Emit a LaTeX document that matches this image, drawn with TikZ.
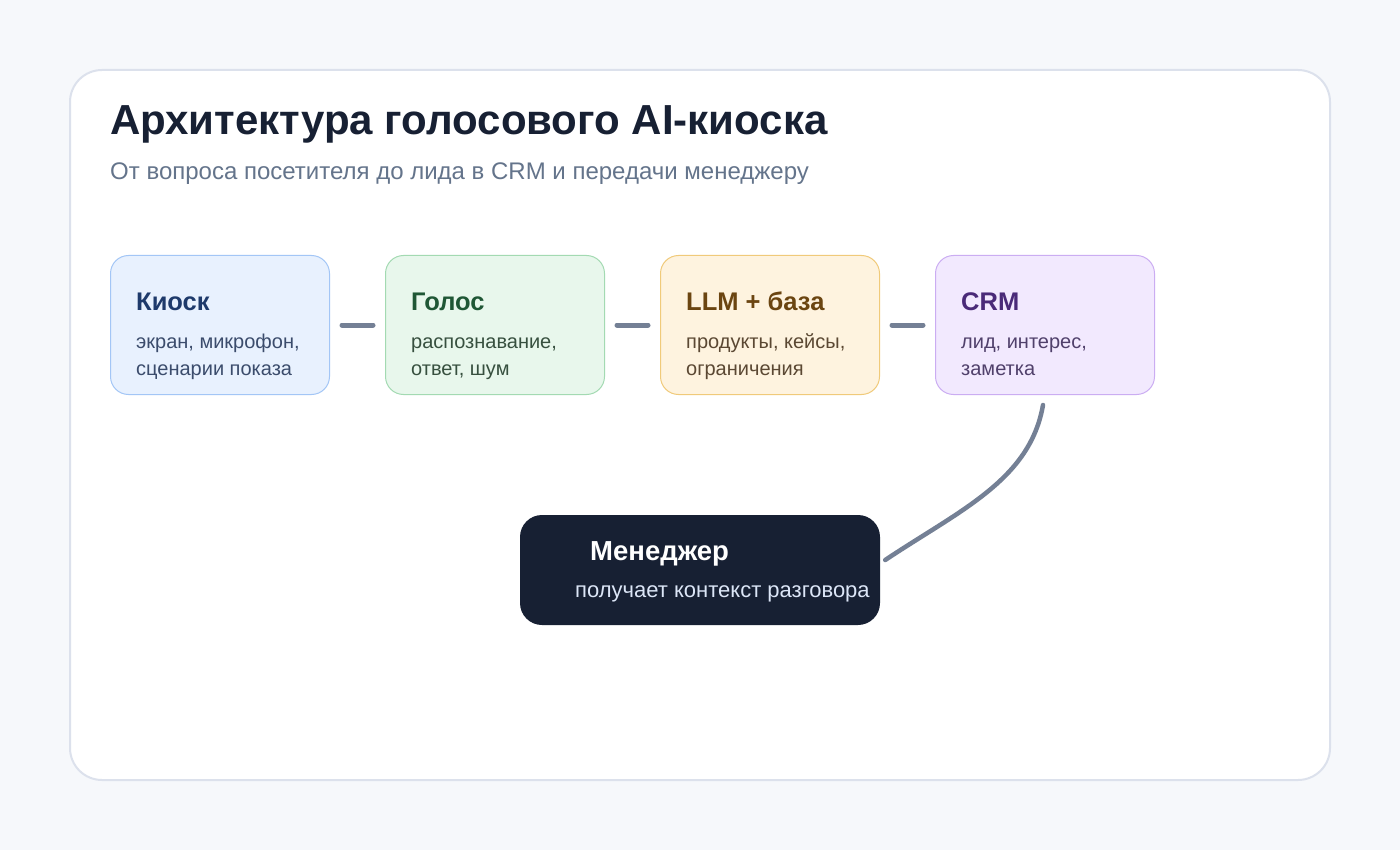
\documentclass[tikz,border=0pt]{standalone}
\usepackage{fontspec}
\setmainfont{Liberation Sans}
\usetikzlibrary{positioning,calc}

\definecolor{pagebg}{HTML}{F6F8FB}
\definecolor{cardline}{HTML}{DCE1EC}
\definecolor{ink}{HTML}{172033}
\definecolor{muted}{HTML}{64748B}
\definecolor{linkgray}{HTML}{748095}
\definecolor{kioskfill}{HTML}{E8F1FE}
\definecolor{kioskline}{HTML}{A3C6F6}
\definecolor{kiosktitle}{HTML}{1E3A6B}
\definecolor{kiosktext}{HTML}{3B4C6C}
\definecolor{voicefill}{HTML}{E8F7EC}
\definecolor{voiceline}{HTML}{A3DAB2}
\definecolor{voicetitle}{HTML}{1F5735}
\definecolor{voicetext}{HTML}{37503F}
\definecolor{llmfill}{HTML}{FEF3DF}
\definecolor{llmline}{HTML}{F0CA7A}
\definecolor{llmtitle}{HTML}{6B4511}
\definecolor{llmtext}{HTML}{5B4833}
\definecolor{crmfill}{HTML}{F2E9FE}
\definecolor{crmline}{HTML}{CBADF2}
\definecolor{crmtitle}{HTML}{4A2A78}
\definecolor{crmtext}{HTML}{50406B}
\definecolor{mgrtext}{HTML}{DCE6F7}

\begin{document}
\begin{tikzpicture}[x=1pt, y=-1pt,
    stage/.style={draw, line width=1pt, rounded corners=18pt,
      minimum width=219pt, minimum height=139pt, inner sep=0pt},
    stagetitle/.style={anchor=base west, inner sep=0pt,
      font=\fontsize{25.5}{30}\selectfont\bfseries},
    stagetext/.style={anchor=base west, inner sep=0pt, align=left,
      font=\fontsize{20}{27}\selectfont},
    link/.style={draw=linkgray, line width=5pt, line cap=round}]
  % page and card
  \fill[pagebg] (0,0) rectangle (1400,850);
  \useasboundingbox (0,0) rectangle (1400,850);
  \draw[cardline, line width=2pt, fill=white, rounded corners=32pt] (70,70) rectangle (1330,780);
  \node[anchor=base west, inner sep=0pt, text=ink, font=\fontsize{42}{50}\selectfont\bfseries]
    (title) at (110,135) {Архитектура голосового AI-киоска};
  \node[anchor=base west, inner sep=0pt, text=muted, font=\fontsize{24}{30}\selectfont]
    (subtitle) at (110,180) {От вопроса посетителя до лида в CRM и передачи менеджеру};

  % stages
  \node[stage, fill=kioskfill, draw=kioskline] (kiosk) at (220,325) {};
  \node[stage, fill=voicefill, draw=voiceline, right=55pt of kiosk] (voice) {};
  \node[stage, fill=llmfill, draw=llmline, right=55pt of voice] (llm) {};
  \node[stage, fill=crmfill, draw=crmline, right=55pt of llm] (crm) {};

  \node[stagetitle, text=kiosktitle] (kiosk-t) at ($(kiosk.north west)+(26,55)$) {Киоск};
  \node[stagetext, text=kiosktext] (kiosk-d) at ($(kiosk.north west)+(26,120)$) {экран, микрофон,\\сценарии показа};
  \node[stagetitle, text=voicetitle] (voice-t) at ($(voice.north west)+(26,55)$) {Голос};
  \node[stagetext, text=voicetext] (voice-d) at ($(voice.north west)+(26,120)$) {распознавание,\\ответ, шум};
  \node[stagetitle, text=llmtitle] (llm-t) at ($(llm.north west)+(26,55)$) {LLM + база};
  \node[stagetext, text=llmtext] (llm-d) at ($(llm.north west)+(26,120)$) {продукты, кейсы,\\ограничения};
  \node[stagetitle, text=crmtitle] (crm-t) at ($(crm.north west)+(26,55)$) {CRM};
  \node[stagetext, text=crmtext] (crm-d) at ($(crm.north west)+(26,120)$) {лид, интерес,\\заметка};

  % manager
  \node[fill=ink, rounded corners=22pt, minimum width=360pt, minimum height=110pt,
    inner sep=0pt] (manager) at (700,570) {};
  \node[anchor=base west, inner sep=0pt, text=white, font=\fontsize{27.5}{30}\selectfont\bfseries]
    (manager-t) at (590,560) {Менеджер};
  \node[anchor=base west, inner sep=0pt, text=mgrtext, font=\fontsize{22}{25}\selectfont]
    (manager-d) at (575,597) {получает контекст разговора};

  % links
  \draw[link, shorten <=12pt, shorten >=12pt] (kiosk) -- (voice);
  \draw[link, shorten <=12pt, shorten >=12pt] (voice) -- (llm);
  \draw[link, shorten <=12pt, shorten >=12pt] (llm) -- (crm);
  \draw[link, line width=4.5pt] ($(crm.south)+(-2,10)$) .. controls +(-13,75) and +(75,-50) .. ($(manager.east)+(5,-10)$);
\end{tikzpicture}
\end{document}
